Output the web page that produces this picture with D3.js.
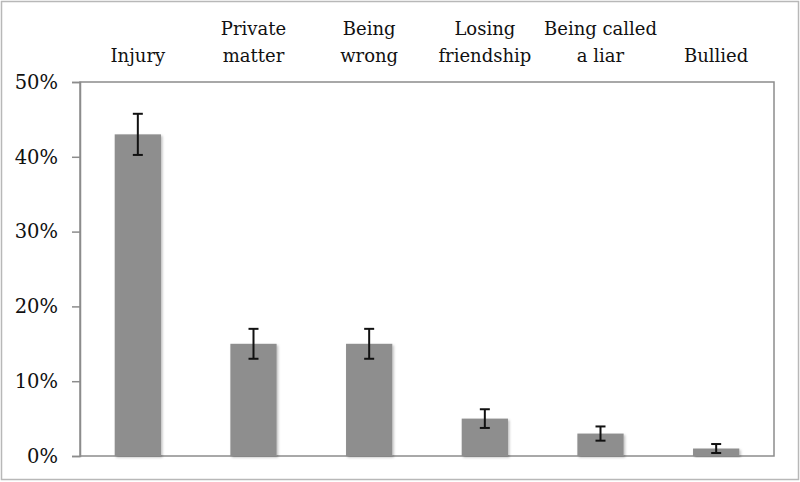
<!DOCTYPE html>
<html>
<head>
<meta charset="utf-8">
<script src="https://cdn.jsdelivr.net/npm/d3@7"></script>
<style>
  html, body { margin: 0; padding: 0; background: #fff; }
  svg { display: block; }
</style>
</head>
<body>
<svg id="chart" width="800" height="482"></svg>
<script>
const categories = [["Injury"], ["Private", "matter"], ["Being", "wrong"], ["Losing", "friendship"], ["Being called", "a liar"], ["Bullied"]];
const values = [43, 15, 15, 5, 3, 1];
const errors = [2.75, 2, 2, 1.25, 0.95, 0.6];
const yTicks = [0, 10, 20, 30, 40, 50];

const svg = d3.select("#chart");
const W = 800, H = 482;
const m = { left: 80, right: 26, top: 82, bottom: 26 };
const pw = W - m.left - m.right, ph = H - m.top - m.bottom;
const font = "'DejaVu Serif', serif";

const defs = svg.append("defs");
const f = defs.append("filter").attr("id", "shadow").attr("x", "-10%").attr("y", "-10%").attr("width", "130%").attr("height", "130%");
f.append("feDropShadow").attr("dx", 1.5).attr("dy", 1.5).attr("stdDeviation", 1).attr("flood-color", "#000").attr("flood-opacity", 0.25);

// outer frame
svg.append("rect").attr("x", 1.5).attr("y", 1.5).attr("width", W - 3).attr("height", H - 4)
  .attr("fill", "#fff").attr("stroke", "#b8b8b8").attr("stroke-width", 1.5);

const x = d3.scaleBand().domain(d3.range(categories.length)).range([m.left, m.left + pw]).padding(0);
const y = d3.scaleLinear().domain([0, 50]).range([m.top + ph, m.top]);
const barW = x.bandwidth() * 0.4;

// plot border
svg.append("rect").attr("x", m.left).attr("y", m.top).attr("width", pw).attr("height", ph)
  .attr("fill", "none").attr("stroke", "#8c8c8c").attr("stroke-width", 1.5);

// y axis
const yAxis = d3.axisLeft(y).tickValues(yTicks).tickFormat(d => d + "%").tickSize(8).tickPadding(14);
const ya = svg.append("g").attr("transform", `translate(${m.left},0)`).call(yAxis);
ya.select(".domain").attr("stroke", "#8c8c8c").attr("stroke-width", 1.5);
ya.selectAll(".tick line").attr("stroke", "#8c8c8c").attr("stroke-width", 1.5);
ya.selectAll(".tick text").attr("font-family", font).attr("font-size", 19.5).attr("fill", "#111");

// bars
svg.append("g").selectAll("rect").data(values).join("rect")
  .attr("x", (d, i) => x(i) + (x.bandwidth() - barW) / 2)
  .attr("y", d => y(d))
  .attr("width", barW)
  .attr("height", d => y(0) - y(d))
  .attr("fill", "#8e8e8e")
  .attr("filter", "url(#shadow)");

// error bars
const eg = svg.append("g").attr("stroke", "#111").attr("stroke-width", 2);
values.forEach((v, i) => {
  const cx = x(i) + x.bandwidth() / 2;
  const hi = y(v + errors[i]), lo = y(v - errors[i]);
  eg.append("line").attr("x1", cx).attr("x2", cx).attr("y1", hi).attr("y2", lo);
  eg.append("line").attr("x1", cx - 5).attr("x2", cx + 5).attr("y1", hi).attr("y2", hi);
  eg.append("line").attr("x1", cx - 5).attr("x2", cx + 5).attr("y1", lo).attr("y2", lo);
});

// category labels at top
const lg = svg.append("g").attr("font-family", font).attr("font-size", 18).attr("fill", "#111").attr("text-anchor", "middle");
categories.forEach((lines, i) => {
  const cx = x(i) + x.bandwidth() / 2;
  const n = lines.length;
  lines.forEach((t, j) => {
    lg.append("text").attr("x", cx).attr("y", 61.5 - (n - 1 - j) * 26.5).text(t);
  });
});
</script>
</body>
</html>
